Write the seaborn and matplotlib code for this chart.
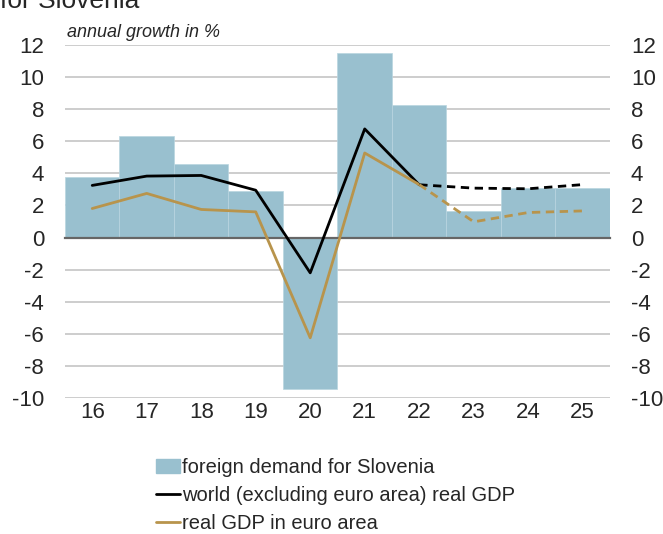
import numpy as np
import pandas as pd
import matplotlib
matplotlib.use('Agg')
import matplotlib.pyplot as plt
import seaborn as sns
from matplotlib.patches import Patch
from matplotlib.lines import Line2D

years = ['16', '17', '18', '19', '20', '21', '22', '23', '24', '25']
foreign_demand = [3.75, 6.33, 4.56, 2.91, -9.45, 11.48, 8.27, 1.63, 3.06, 3.06]
world_gdp = [3.25, 3.83, 3.87, 2.95, -2.2, 6.77, 3.29, 3.08, 3.04, 3.3]
euro_gdp = [1.81, 2.75, 1.75, 1.6, -6.25, 5.27, 3.3, 0.98, 1.56, 1.66]
last_actual = 6  # index of '22', projections after it

bar_col = '#99c0cf'
gold = '#b8944c'
grid_col = '#c9c9c9'

sns.set_style('white')
plt.rcParams['font.family'] = ['Liberation Sans', 'DejaVu Sans']
plt.rcParams['axes.unicode_minus'] = False

df = pd.DataFrame({'year': years, 'pos': np.arange(len(years)),
                   'demand': foreign_demand, 'world': world_gdp, 'euro': euro_gdp})
hist = df[df['pos'] <= last_actual]
proj = df[df['pos'] >= last_actual]

fig = plt.figure(figsize=(6.63, 5.34), dpi=100)
ax = fig.add_axes([0.098, 0.2547, 0.822, 0.661])

for y in range(-10, 13, 2):
    if y != 0:
        ax.axhline(y, color=grid_col, lw=1.3, zorder=0)

sns.barplot(data=df, x='year', y='demand', color=bar_col, width=1.0,
            edgecolor='#b9d5e0', linewidth=0.5, saturation=1, ax=ax, zorder=1)

sns.lineplot(data=hist, x='pos', y='world', color='black', lw=2, ax=ax, zorder=3)
sns.lineplot(data=hist, x='pos', y='euro', color=gold, lw=2, ax=ax, zorder=3)
sns.lineplot(data=proj, x='pos', y='world', color='black', lw=2, ax=ax, zorder=3,
             linestyle=(0, (3, 2)))
sns.lineplot(data=proj, x='pos', y='euro', color=gold, lw=2, ax=ax, zorder=3,
             linestyle=(0, (3, 2)))

ax.set_xlim(-0.5, len(years) - 0.5)
ax.set_ylim(-10, 12)
ax.set_yticks(range(-10, 13, 2))
ax.set_xlabel('')
ax.set_ylabel('')
for s in ['top', 'right', 'left']:
    ax.spines[s].set_visible(False)
ax.spines['bottom'].set_position(('data', 0))
ax.spines['bottom'].set_color('#666666')
ax.spines['bottom'].set_linewidth(1.6)
ax.spines['bottom'].set_zorder(2)
ax.set_xticks(np.arange(len(years) + 1) - 0.5)
ax.tick_params(axis='x', length=5, width=1.2, color='#666666', labelbottom=False,
               direction='out')
ax.tick_params(axis='y', length=0, labelsize=16, pad=15)

sec = ax.secondary_xaxis('bottom')
sec.set_xticks(np.arange(len(years)), labels=years)
sec.tick_params(length=0, labelsize=16, pad=3)
sec.spines['bottom'].set_visible(False)

ax2 = ax.twinx()
ax2.set_ylim(-10, 12)
ax2.set_yticks(range(-10, 13, 2))
ax2.tick_params(axis='y', length=0, labelsize=16, pad=15)
for s in ax2.spines.values():
    s.set_visible(False)

ax.text(0.003, 1.01, 'annual growth in %', transform=ax.transAxes, style='italic',
        fontsize=13, va='bottom', ha='left')
fig.text(0.0, 0.985, 'for Slovenia', fontsize=19, va='baseline', ha='left')

handles = [Patch(color=bar_col, label='foreign demand for Slovenia'),
           Line2D([], [], color='black', lw=2, label='world (excluding euro area) real GDP'),
           Line2D([], [], color=gold, lw=2, label='real GDP in euro area')]
fig.legend(handles=handles, loc='upper left', bbox_to_anchor=(0.235, 0.142),
           frameon=False, fontsize=14.5, handlelength=1.2, handletextpad=0.1,
           labelspacing=0.45, borderaxespad=0, borderpad=0)

fig.savefig('out.png', dpi=100)
